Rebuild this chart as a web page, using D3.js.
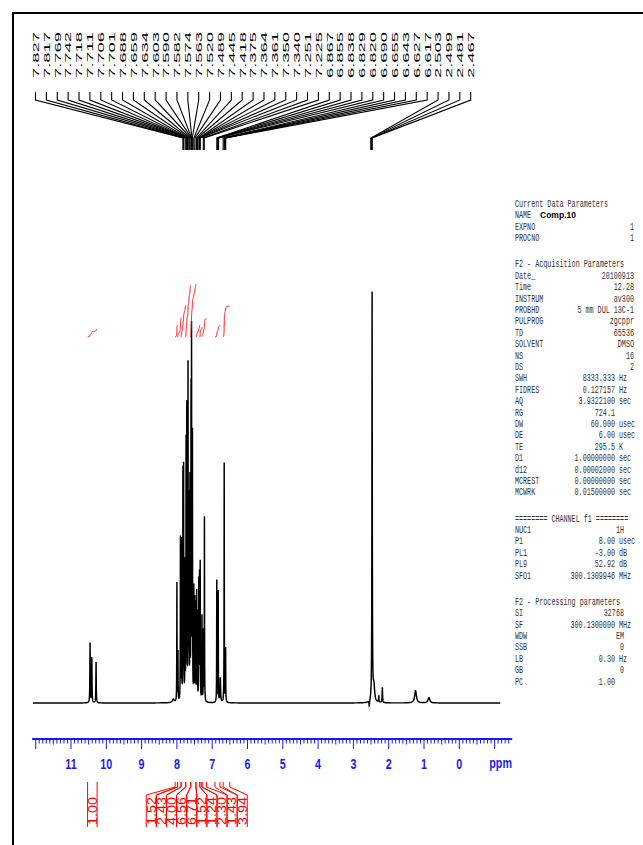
<!DOCTYPE html>
<html><head><meta charset="utf-8">
<script src="https://cdn.jsdelivr.net/npm/d3@7"></script>
<style>html,body{margin:0;padding:0;background:#fff;} svg{display:block;}</style>
</head><body>
<script>
// ---------------- data ----------------
const peakLabels = [7.827,7.817,7.769,7.742,7.718,7.711,7.706,7.701,7.688,7.659,7.634,7.603,7.590,7.582,7.574,7.563,7.520,7.489,7.445,7.418,7.375,7.364,7.361,7.350,7.340,7.251,7.225,6.867,6.855,6.838,6.829,6.820,6.690,6.655,6.643,6.627,6.617,2.503,2.499,2.481,2.467];

// spectrum lines (ppm, relative height with DMSO = 100, half width in ppm)
const peakPpm    = [10.46,10.41,10.29, 8.10, 8.00,7.97,7.90,7.87,7.83,7.81,7.77,7.74,7.72,7.685,7.66,7.63,7.60,7.585,7.56,7.52,7.49,7.47,7.44,7.42,7.38,7.36,7.34,7.29,7.25,7.22, 6.87,6.83,6.77,6.66,6.62, 2.55,2.47,2.42,2.28,2.18,1.24,0.86];
const peakHeight = [14.6, 11,  10,   0.8,  29,  12,  40,  39,  55,  56,  33,  61.5,70,  82,   48,  53,  72,  86,   64,  27,  24,  23,  26,  21,  29,  30,  33,  21,  17,  45,   30,  27,  6,   59,  13,  -1.5,100, 4,   1.5, 3.7, 3,   1.3];
const peakWidth  = [0.006,0.006,0.006,0.03,0.004,0.004,0.004,0.004,0.004,0.004,0.004,0.004,0.004,0.004,0.004,0.004,0.004,0.004,0.004,0.004,0.004,0.004,0.004,0.004,0.004,0.004,0.004,0.004,0.004,0.004,0.004,0.004,0.01,0.004,0.004,0.008,0.006,0.025,0.008,0.008,0.03,0.03];

const integralStart  = [10.53, 8.05, 7.98, 7.88, 7.75, 7.61, 7.46, 7.35, 7.29, 6.92, 6.69];
const integralEnd    = [10.26, 7.98, 7.88, 7.75, 7.61, 7.46, 7.35, 7.29, 7.16, 6.78, 6.50];
const integralValues = [1.00, 1.52, 2.43, 4.00, 6.56, 6.71, 1.52, 1.24, 2.30, 1.43, 3.94];

const axisTicks = [11,10,9,8,7,6,5,4,3,2,1,0];

const paramRows = [
 ["h","Current Data Parameters"],
 ["n","NAME","Comp.10",""],
 ["p","EXPNO","1",""],
 ["p","PROCNO","1",""],
 ["gap"],
 ["h","F2 - Acquisition Parameters"],
 ["p","Date_","20100913",""],
 ["p","Time","12.28",""],
 ["p","INSTRUM","av300",""],
 ["p","PROBHD","5 mm DUL 13C-1",""],
 ["p","PULPROG","zgcppr",""],
 ["p","TD","65536",""],
 ["p","SOLVENT","DMSO",""],
 ["p","NS","16",""],
 ["p","DS","2",""],
 ["u","SWH","8333.333","Hz"],
 ["u","FIDRES","0.127157","Hz"],
 ["u","AQ","3.9322100","sec"],
 ["u","RG","724.1",""],
 ["u","DW","60.000","usec"],
 ["u","DE","6.00","usec"],
 ["u","TE","295.5","K"],
 ["u","D1","1.00000000","sec"],
 ["u","d12","0.00002000","sec"],
 ["u","MCREST","0.00000000","sec"],
 ["u","MCWRK","0.01500000","sec"],
 ["gap"],
 ["h","======== CHANNEL f1 ========"],
 ["q","NUC1","1H",""],
 ["u","P1","8.00","usec"],
 ["u","PL1","-3.00","dB"],
 ["u","PL9","52.92","dB"],
 ["u","SFO1","300.1309946","MHz"],
 ["gap"],
 ["h","F2 - Processing parameters"],
 ["q","SI","32768",""],
 ["u","SF","300.1300000","MHz"],
 ["q","WDW","EM",""],
 ["q","SSB","0",""],
 ["u","LB","0.30","Hz"],
 ["q","GB","0",""],
 ["u","PC","1.00",""]
];

// ---------------- drawing ----------------
const W = 643, H = 845;
const svg = d3.select("body").append("svg").attr("width", W).attr("height", H);

const x = d3.scaleLinear().domain([12.1, -1.5]).range([32.17, 512.25]);
const y = d3.scaleLinear().domain([0, 100]).range([703, 293]);
const yInt = d3.scaleLinear().domain([0, 10]).range([337, 258]);

// frame
svg.append("rect").attr("x", 13).attr("y", 13).attr("width", 700).attr("height", 900)
  .attr("fill", "none").attr("stroke", "#000").attr("stroke-width", 2);

// spectrum from the peak list
function intensity(p) {
  let s = 0;
  for (let i = 0; i < peakPpm.length; i++) {
    const d = (p - peakPpm[i]) / peakWidth[i];
    s += peakHeight[i] / (1 + d * d);
  }
  return s;
}
const step = 0.0012;
const specPts = [];
for (let p = 12.08; p >= -1.16; p -= step) specPts.push([p, intensity(p)]);

svg.append("path").datum(specPts)
  .attr("d", d3.line().x(d => x(d[0])).y(d => y(d[1])))
  .attr("fill", "none").attr("stroke", "#000").attr("stroke-width", 1.45);

// integral curves
integralValues.forEach((v, i) => {
  const a = integralStart[i], b = integralEnd[i];
  const pts = [];
  let cum = 0;
  for (let p = a; p >= b; p -= step / 2) { cum += intensity(p); pts.push([p, cum]); }
  const total = cum;
  svg.append("path").datum(pts)
    .attr("d", d3.line().x(d => x(d[0])).y(d => yInt(d[1] / total * v)))
    .attr("fill", "none").attr("stroke", "#f00").attr("stroke-width", 1);
});

// x axis (ppm)
const blue = "#1a1af0";
const ax = svg.append("g");
ax.append("line").attr("x1", x(12.1)).attr("x2", x(-1.5)).attr("y1", 739).attr("y2", 739)
  .attr("stroke", blue).attr("stroke-width", 2);
const minor = d3.range(120, -15, -1).map(k => k / 10);
ax.selectAll("line.t").data(minor).join("line").attr("class", "t")
  .attr("x1", d => x(d)).attr("x2", d => x(d))
  .attr("y1", 739)
  .attr("y2", d => Math.abs(d - Math.round(d)) < 1e-6 ? 749 : (Math.abs(d * 2 - Math.round(d * 2)) < 1e-6 ? 744.5 : 743.5))
  .attr("stroke", blue).attr("stroke-width", 1);
ax.selectAll("text.l").data(axisTicks).join("text").attr("class", "l")
  .attr("transform", d => `translate(${x(d)},769) scale(0.74,1)`)
  .attr("text-anchor", "middle").attr("fill", blue)
  .style("font", "bold 14.5px 'Liberation Sans', Arial, sans-serif")
  .text(d => d);
ax.append("text").attr("transform", `translate(${x(-1)+6},768) scale(0.74,1)`)
  .attr("text-anchor", "middle").attr("fill", blue)
  .style("font", "bold 14.5px 'Liberation Sans', Arial, sans-serif").text("ppm");

// peak labels with fan lines
const lab = svg.append("g");
const lx0 = 35.5, ldx = 10.88;
peakLabels.forEach((p, i) => {
  const xl = lx0 + i * ldx, xp = x(p);
  lab.append("path").attr("d", `M${xl},92V100L${xp},138V150`)
    .attr("fill", "none").attr("stroke", "#000").attr("stroke-width", 1.1);
  lab.append("text").attr("transform", `translate(${xl},78) rotate(-90)`)
    .attr("dy", "0.35em").attr("textLength", 46).attr("lengthAdjust", "spacingAndGlyphs")
    .style("font", "9.5px 'Liberation Sans', Arial, sans-serif").attr("fill", "#000")
    .text(p.toFixed(3));
});

// integral labels with brackets (spread to avoid overlap)
const ig = svg.append("g");
const mids = integralValues.map((v, i) => (x(integralStart[i]) + x(integralEnd[i])) / 2);
const boxW = 10.1;
const centers = mids.slice();
let groups = [], cur = [0];
for (let i = 1; i < mids.length; i++) {
  if (mids[i] - mids[i - 1] < boxW * 2.5) cur.push(i); else { groups.push(cur); cur = [i]; }
}
groups.push(cur);
groups.forEach(g => {
  if (g.length < 2) return;
  const m = d3.mean(g, i => mids[i]);
  g.forEach((i, k) => centers[i] = m + (k - (g.length - 1) / 2) * boxW);
});
integralValues.forEach((v, i) => {
  const xa = x(integralStart[i]), xb = x(integralEnd[i]);
  const single = groups.find(g => g.includes(i)).length < 2;
  const bl = single ? xa : centers[i] - boxW / 2, br = single ? xb : centers[i] + boxW / 2;
  ig.append("path").attr("d", `M${xa},782V787L${bl},795V827`).attr("fill", "none").attr("stroke", "#f00").attr("stroke-width", 1);
  ig.append("path").attr("d", `M${xb},782V787L${br},795V827`).attr("fill", "none").attr("stroke", "#f00").attr("stroke-width", 1);
  ig.append("text").attr("transform", `translate(${(bl + br) / 2},811) rotate(-90)`)
    .attr("dy", "0.36em").attr("text-anchor", "middle")
    .attr("textLength", 28).attr("lengthAdjust", "spacingAndGlyphs")
    .style("font", "12px 'Liberation Sans', Arial, sans-serif").attr("fill", "#f00")
    .text(v.toFixed(2));
});

// parameter panel (narrow monospaced look)
const sx = 0.675;
const pg = svg.append("g").attr("transform", `scale(${sx},1)`)
  .style("font", "10px 'Liberation Mono', 'DejaVu Sans Mono', monospace").attr("fill", "#333");
let py = 207;
const ls = 11.4;
const X = v => v / sx;
paramRows.forEach(r => {
  if (r[0] === "gap") { py += ls * 1.3; return; }
  pg.append("text").attr("x", X(515)).attr("y", py).text(r[1]);
  if (r[0] === "n") {
    svg.append("text").attr("x", 540).attr("y", py).style("font", "bold 8.5px 'Liberation Sans', Arial, sans-serif").attr("fill", "#000").text(r[2]);
  } else if (r[0] === "p") {
    pg.append("text").attr("x", X(634)).attr("y", py).attr("text-anchor", "end").text(r[2]);
  } else if (r[0] === "q") {
    pg.append("text").attr("x", X(624)).attr("y", py).attr("text-anchor", "end").text(r[2]);
  } else if (r[0] === "u") {
    pg.append("text").attr("x", X(615)).attr("y", py).attr("text-anchor", "end").text(r[2]);
    if (r[3]) pg.append("text").attr("x", X(619)).attr("y", py).text(r[3]);
  }
  py += ls;
});
</script>
</body></html>
